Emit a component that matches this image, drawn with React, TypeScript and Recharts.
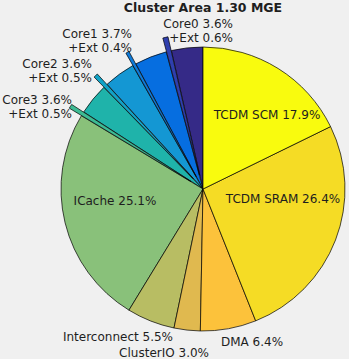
import React from 'react';
import { PieChart, Pie, Cell, Sector } from 'recharts';

// ---- data ----
const categories = [
  'Core0', 'Core0 Ext', 'Core1', 'Core1 Ext', 'Core2', 'Core2 Ext', 'Core3', 'Core3 Ext',
  'ICache', 'Interconnect', 'ClusterIO', 'DMA', 'TCDM SRAM', 'TCDM SCM',
];
const shares = [3.6, 0.6, 3.7, 0.4, 3.6, 0.5, 3.6, 0.5, 25.1, 5.5, 3.0, 6.4, 26.4, 17.9];
const isExt = [false, true, false, true, false, true, false, true, false, false, false, false, false, false];
const title = 'Cluster Area 1.30 MGE';

// ---- styles ----
const colors = [
  '#352a87', '#2f3fae', '#066ee0', '#0f7ad8', '#1497d3', '#12a3c6', '#1fb3aa', '#3dbb94',
  '#89c17a', '#b8bd63', '#e0b94f', '#fcc23b', '#f5dc25', '#f9fb0e',
];
const FONT = '"DejaVu Sans", sans-serif';
const TEXT = '#1e1e1e';
const CX = 203;
const CY = 189;
const R = 142;

type Place = { dx: number; dy: number; anchor: 'start' | 'middle' | 'end' };
const placement: Record<string, Place> = {
  Core0: { dx: 30, dy: -161, anchor: 'end' },
  Core1: { dx: -71, dy: -151, anchor: 'end' },
  Core2: { dx: -111, dy: -121, anchor: 'end' },
  Core3: { dx: -131, dy: -85, anchor: 'end' },
  ICache: { dx: -88, dy: 16, anchor: 'middle' },
  Interconnect: { dx: -30, dy: 152, anchor: 'end' },
  ClusterIO: { dx: 6, dy: 168, anchor: 'end' },
  DMA: { dx: 18, dy: 157, anchor: 'start' },
  'TCDM SRAM': { dx: 80, dy: 14, anchor: 'middle' },
  'TCDM SCM': { dx: 64, dy: -70, anchor: 'middle' },
};

const data = categories.map((name, i) => ({ name, value: shares[i] }));

const RAD = Math.PI / 180;

const renderLabel = (props: any) => {
  const { index, cx, cy, outerRadius, startAngle, endAngle, midAngle } = props;
  const name = categories[index];
  if (isExt[index]) {
    const off = outerRadius * 0.1;
    const ox = off * Math.cos(midAngle * RAD);
    const oy = -off * Math.sin(midAngle * RAD);
    return (
      <Sector
        key={`ext-${index}`}
        cx={cx + ox}
        cy={cy + oy}
        innerRadius={0}
        outerRadius={outerRadius}
        startAngle={startAngle}
        endAngle={endAngle}
        fill={colors[index]}
        stroke="#000"
        strokeWidth={0.7}
      />
    );
  }
  const p = placement[name];
  if (!p) return null;
  const x = cx + p.dx;
  const y = cy + p.dy;
  const line1 = `${name} ${shares[index].toFixed(1)}%`;
  const hasExt = isExt[index + 1];
  return (
    <text
      key={`lbl-${index}`}
      x={x}
      y={y}
      textAnchor={p.anchor}
      fontFamily={FONT}
      fontSize={12}
      fill={TEXT}
    >
      <tspan x={x} y={y}>{line1}</tspan>
      {hasExt ? (
        <tspan x={x} y={y + 13.5}>{`+Ext ${shares[index + 1].toFixed(1)}%`}</tspan>
      ) : null}
    </text>
  );
};

export default function App() {
  return (
    <div
      style={{
        position: 'absolute',
        left: 0,
        top: 0,
        width: 349,
        height: 359,
        background: '#f0f0f0',
        overflow: 'hidden',
      }}
    >
      <svg
        width={349}
        height={20}
        style={{ position: 'absolute', left: 0, top: 0 }}
      >
        <text
          x={203}
          y={12}
          textAnchor="middle"
          fontFamily={FONT}
          fontSize={12.5}
          fontWeight="bold"
          fill={TEXT}
        >
          {title}
        </text>
      </svg>
      <div style={{ position: 'absolute', left: 0, top: 0 }}>
        <PieChart width={349} height={359} margin={{ top: 0, right: 0, bottom: 0, left: 0 }}>
          <Pie
            data={data}
            dataKey="value"
            nameKey="name"
            cx={CX}
            cy={CY}
            innerRadius={0}
            outerRadius={R}
            startAngle={90}
            endAngle={450}
            paddingAngle={0}
            isAnimationActive={false}
            label={renderLabel}
            labelLine={false}
          >
            {data.map((d, i) => (
              <Cell
                key={d.name}
                fill={isExt[i] ? 'none' : colors[i]}
                stroke={isExt[i] ? 'none' : '#000'}
                strokeWidth={0.7}
              />
            ))}
          </Pie>
        </PieChart>
      </div>
    </div>
  );
}
